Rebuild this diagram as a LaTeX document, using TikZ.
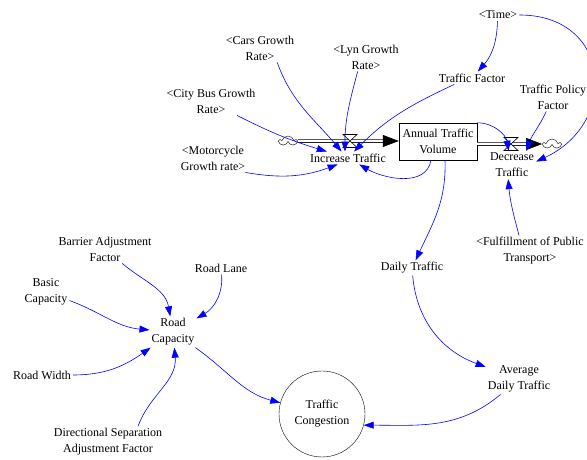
\documentclass[tikz,border=0pt]{standalone}
\usepackage{fontspec}
\setmainfont{Liberation Serif}
\usetikzlibrary{arrows.meta,shapes.symbols}

\tikzset{
  var/.style={align=center, inner sep=2pt, font=\fontsize{12}{16}\selectfont},
  conn/.style={blue, line width=0.6pt, -{Triangle[length=10pt,width=7pt]}},
  pipe/.style={double, double distance=2.5pt, line width=0.6pt, -{Triangle[length=16pt,width=12pt]}},
  src/.style={cloud, cloud puffs=5, draw, fill=white, minimum width=17pt, minimum height=10pt, inner sep=0pt}
}

\begin{document}
\begin{tikzpicture}[x=1pt,y=1pt]
    \useasboundingbox (0,0) rectangle (587,460);

    \node[draw, rectangle, minimum width=78pt, minimum height=37pt, var] at (438,318.5) (annual) {Annual Traffic\\Volume};
    \node[src] at (288,319) (cloudl) {};
    \node[src] at (552,316) (cloudr) {};
    \coordinate (valvel) at (350,319);
    \coordinate (valver) at (511,316);

    \node[var] at (348,302) (increase) {Increase Traffic};
    \node[var] at (512,295) (decrease) {Decrease\\Traffic};
    \node[var] at (498,445) (time) {<Time>};
    \node[var] at (472,382) (trafficfactor) {Traffic Factor};
    \node[var] at (553,363) (policy) {Traffic Policy\\Factor};
    \node[var] at (260,412) (cars) {<Cars Growth\\Rate>};
    \node[var] at (366,403) (lyn) {<Lyn Growth\\Rate>};
    \node[var] at (211,359) (citybus) {<City Bus Growth\\Rate>};
    \node[var] at (213,302) (motorcycle) {<Motorcycle\\Growth rate>};
    \node[var] at (530,209) (fulfil) {<Fulfillment of Public\\Transport>};
    \node[var] at (412,192) (daily) {Daily Traffic};
    \node[var] at (519,81) (average) {Average\\Daily Traffic};
    \node[draw, circle, minimum size=86pt, var] at (322,46) (congestion) {Traffic\\Congestion};

    \node[var] at (105,211) (barrier) {Barrier Adjustment\\Factor};
    \node[var] at (221,192) (roadlane) {Road Lane};
    \node[var] at (46,168) (basic) {Basic\\Capacity};
    \node[var] at (173,128) (roadcap) {Road\\Capacity};
    \node[var] at (42,85) (roadwidth) {Road Width};
    \node[var] at (108,18) (directional) {Directional Separation\\Adjustment Factor};

    \draw[pipe] (cloudl.east) -- (cloudl -| annual.west);
    \draw[pipe] (cloudr -| annual.east) -- (cloudr.west);
    \foreach \v in {valvel,valver}
      \filldraw[fill=white, line width=0.6pt] ([shift={(-7,6.5)}]\v) -- ([shift={(7,6.5)}]\v) -- ([shift={(-7,-6.5)}]\v) -- ([shift={(7,-6.5)}]\v) -- cycle;

    \draw[conn] (time.-95) to[bend left=20] (trafficfactor.48);
    \draw[conn] (time.east) to[out=0, in=25, looseness=1.6] (decrease.8);
    \draw[conn] (trafficfactor.200) to[out=-155, in=45] (increase.47);
    \draw[conn] (policy.-115) to[out=-115, in=70] (decrease.45);
    \draw[conn] (annual.north east) to[out=0, in=100] (decrease.103);
    \draw[conn] ([xshift=-7pt]annual.south) to[out=-100, in=-30] (increase.-30);
    \draw[conn] ([xshift=7pt]annual.south) to[out=-88, in=65] (daily);
    \draw[conn] (fulfil.125) to[out=105, in=-85] (decrease.255);
    \draw[conn] (cars.-40) to[out=-70, in=130] (increase.135);
    \draw[conn] (lyn.-120) to[out=-105, in=90] (increase.115);
    \draw[conn] (citybus.-29) to[bend right=5] (increase.163);
    \draw[conn] (motorcycle.-24) to[out=-10, in=200] (increase.212);
    \draw[conn] (daily) to[out=-85, in=160] (average);
    \draw[conn] (average) to[out=-140, in=0] (congestion.-15);

    \draw[conn] (barrier) to[out=-40, in=100] (roadcap);
    \draw[conn] (roadlane) to[out=-85, in=30] (roadcap);
    \draw[conn] (basic) to[out=-20, in=175] (roadcap);
    \draw[conn] (roadwidth) to[out=0, in=-145] (roadcap);
    \draw[conn] ([xshift=30pt]directional.north) to[out=70, in=-85] (roadcap);
    \draw[conn] (roadcap) to[out=-35, in=165] (congestion);
\end{tikzpicture}
\end{document}
